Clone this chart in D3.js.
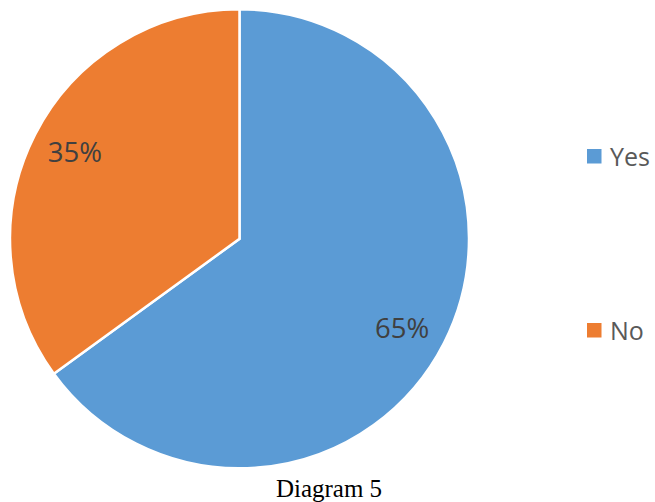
<!DOCTYPE html>
<html>
<head>
<meta charset="utf-8">
<script src="https://cdn.jsdelivr.net/npm/d3@7"></script>
<style>
  html, body { margin: 0; padding: 0; background: #fff; }
  svg { display: block; }
</style>
</head>
<body>
<svg id="chart" width="655" height="502"></svg>
<script>
// Survey answers and their shares (percent)
const categories = ["Yes", "No"];
const values = [65, 35];
const colors = ["#5B9BD5", "#ED7D31"];
const title = "Diagram 5";

const svg = d3.select("#chart");
const cx = 239.5, cy = 238.8, radius = 229.5;

const color = d3.scaleOrdinal().domain(categories).range(colors);

const pie = d3.pie().sort(null).value(d => d.value);
const data = pie(categories.map((c, i) => ({ name: c, value: values[i] })));

const arc = d3.arc().innerRadius(0).outerRadius(radius);
const labelArc = d3.arc().innerRadius(radius * 0.8).outerRadius(radius * 0.8);
// small vertical nudge of the percentage labels, like the best-fit placement
const labelNudge = [6, -3];

const g = svg.append("g").attr("transform", `translate(${cx},${cy})`);

g.selectAll("path.slice")
  .data(data)
  .join("path")
  .attr("class", "slice")
  .attr("d", arc)
  .attr("fill", d => color(d.data.name))
  .attr("stroke", "#fff")
  .attr("stroke-width", 2.5)
  .attr("stroke-linejoin", "miter");

g.selectAll("text.pct")
  .data(data)
  .join("text")
  .attr("class", "pct")
  .attr("transform", (d, i) => {
    const [x, y] = labelArc.centroid(d);
    return `translate(${x - 1},${y + labelNudge[i]})`;
  })
  .attr("text-anchor", "middle")
  .attr("dy", "0.36em")
  .attr("font-family", "'Open Sans', sans-serif")
  .attr("font-size", 27.5)
  .attr("fill", "#404040")
  .text(d => d.data.value + "%");

// Legend
const legend = svg.append("g").attr("transform", "translate(587,0)");
const legendY = d3.scalePoint().domain(categories).range([156.5, 330.5]);

const items = legend.selectAll("g.item")
  .data(categories)
  .join("g")
  .attr("class", "item")
  .attr("transform", d => `translate(0,${legendY(d)})`);

items.append("rect")
  .attr("x", 0).attr("y", -7.5)
  .attr("width", 14.5).attr("height", 14.5)
  .attr("fill", d => color(d));

items.append("text")
  .attr("x", 23)
  .attr("dy", "0.36em")
  .attr("font-family", "'Open Sans', sans-serif")
  .attr("font-size", 25)
  .attr("fill", "#595959")
  .text(d => d);

svg.append("text")
  .attr("x", 329)
  .attr("y", 497)
  .attr("text-anchor", "middle")
  .attr("font-family", "'Liberation Serif', 'Times New Roman', serif")
  .attr("font-size", 25)
  .attr("fill", "#000")
  .text(title);
</script>
</body>
</html>
